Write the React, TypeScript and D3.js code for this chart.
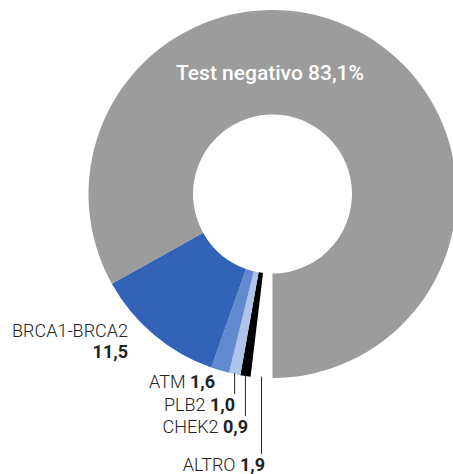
import * as React from 'react';
import * as d3 from 'd3';

// slices, clockwise starting from 6 o'clock
const categories = ['ALTRO', 'CHEK2', 'PLB2', 'ATM', 'BRCA1-BRCA2', 'Test negativo'];
const values = [1.9, 0.9, 1.0, 1.6, 11.5, 83.1];
const valueLabels = ['1,9', '0,9', '1,0', '1,6', '11,5', '83,1%'];
const colors = ['#ffffff', '#000000', '#aec4e8', '#6089cf', '#3263b6', '#9c9c9c'];

// label anchor (right edge / baseline) for the outside labels
const labelPos: { [k: string]: { x: number; y: number; leader: boolean } } = {
  ALTRO: { x: 265, y: 471, leader: true },
  CHEK2: { x: 248, y: 433, leader: true },
  PLB2: { x: 235, y: 411, leader: true },
  ATM: { x: 215, y: 388, leader: false },
};

export default function App() {
  const ref = React.useRef<SVGSVGElement>(null);

  React.useEffect(() => {
    const width = 453;
    const height = 474;
    const cx = 272.5;
    const cy = 194;
    const outerR = 184;
    const innerR = 79.5;

    const data = categories.map((c, i) => ({ name: c, value: values[i], label: valueLabels[i], color: colors[i] }));

    const pie = d3.pie<any>()
      .sort(null)
      .value(d => d.value)
      .startAngle(Math.PI)
      .endAngle(3 * Math.PI);
    const arc = d3.arc<any>().innerRadius(innerR).outerRadius(outerR);

    const svg = d3.select(ref.current);
    svg.selectAll('*').remove();
    svg.attr('width', width).attr('height', height);

    const g = svg.append('g').attr('transform', `translate(${cx},${cy})`);
    const arcs = pie(data);

    g.selectAll('path').data(arcs).enter().append('path')
      .attr('d', arc)
      .attr('fill', d => d.data.color);

    const font = 'Roboto, "DejaVu Sans", sans-serif';

    // big label in the grey slice
    svg.append('text')
      .attr('x', 270)
      .attr('y', 80)
      .attr('text-anchor', 'middle')
      .attr('fill', '#ffffff')
      .style('font-family', font)
      .style('font-size', '21px')
      .style('font-weight', 500)
      .text('Test negativo 83,1%');

    // BRCA label, two lines
    const brca = svg.append('text')
      .attr('text-anchor', 'end')
      .style('font-family', font)
      .style('font-size', '18px')
      .attr('fill', '#222');
    brca.append('tspan').attr('x', 128).attr('y', 337).style('font-weight', 300).text('BRCA1-BRCA2');
    brca.append('tspan').attr('x', 128).attr('y', 358).style('font-weight', 700).text('11,5');

    // small slices
    arcs.forEach(a => {
      const p = labelPos[a.data.name];
      if (!p) return;
      const mid = (a.startAngle + a.endAngle) / 2;
      if (p.leader) {
        const lx = cx + outerR * Math.sin(mid);
        svg.append('line')
          .attr('x1', lx).attr('x2', lx)
          .attr('y1', cy - outerR * Math.cos(mid) - 1)
          .attr('y2', p.y - 17)
          .attr('stroke', '#222')
          .attr('stroke-width', 1);
      }
      const t = svg.append('text')
        .attr('x', p.x)
        .attr('y', p.y)
        .attr('text-anchor', 'end')
        .attr('fill', '#222')
        .style('font-family', font)
        .style('font-size', '18px');
      t.append('tspan').style('font-weight', 300).text(a.data.name + ' ');
      t.append('tspan').style('font-weight', 700).text(a.data.label);
    });
  }, []);

  return <svg ref={ref} style={{ position: 'absolute', left: 0, top: 0 }}></svg>;
}
